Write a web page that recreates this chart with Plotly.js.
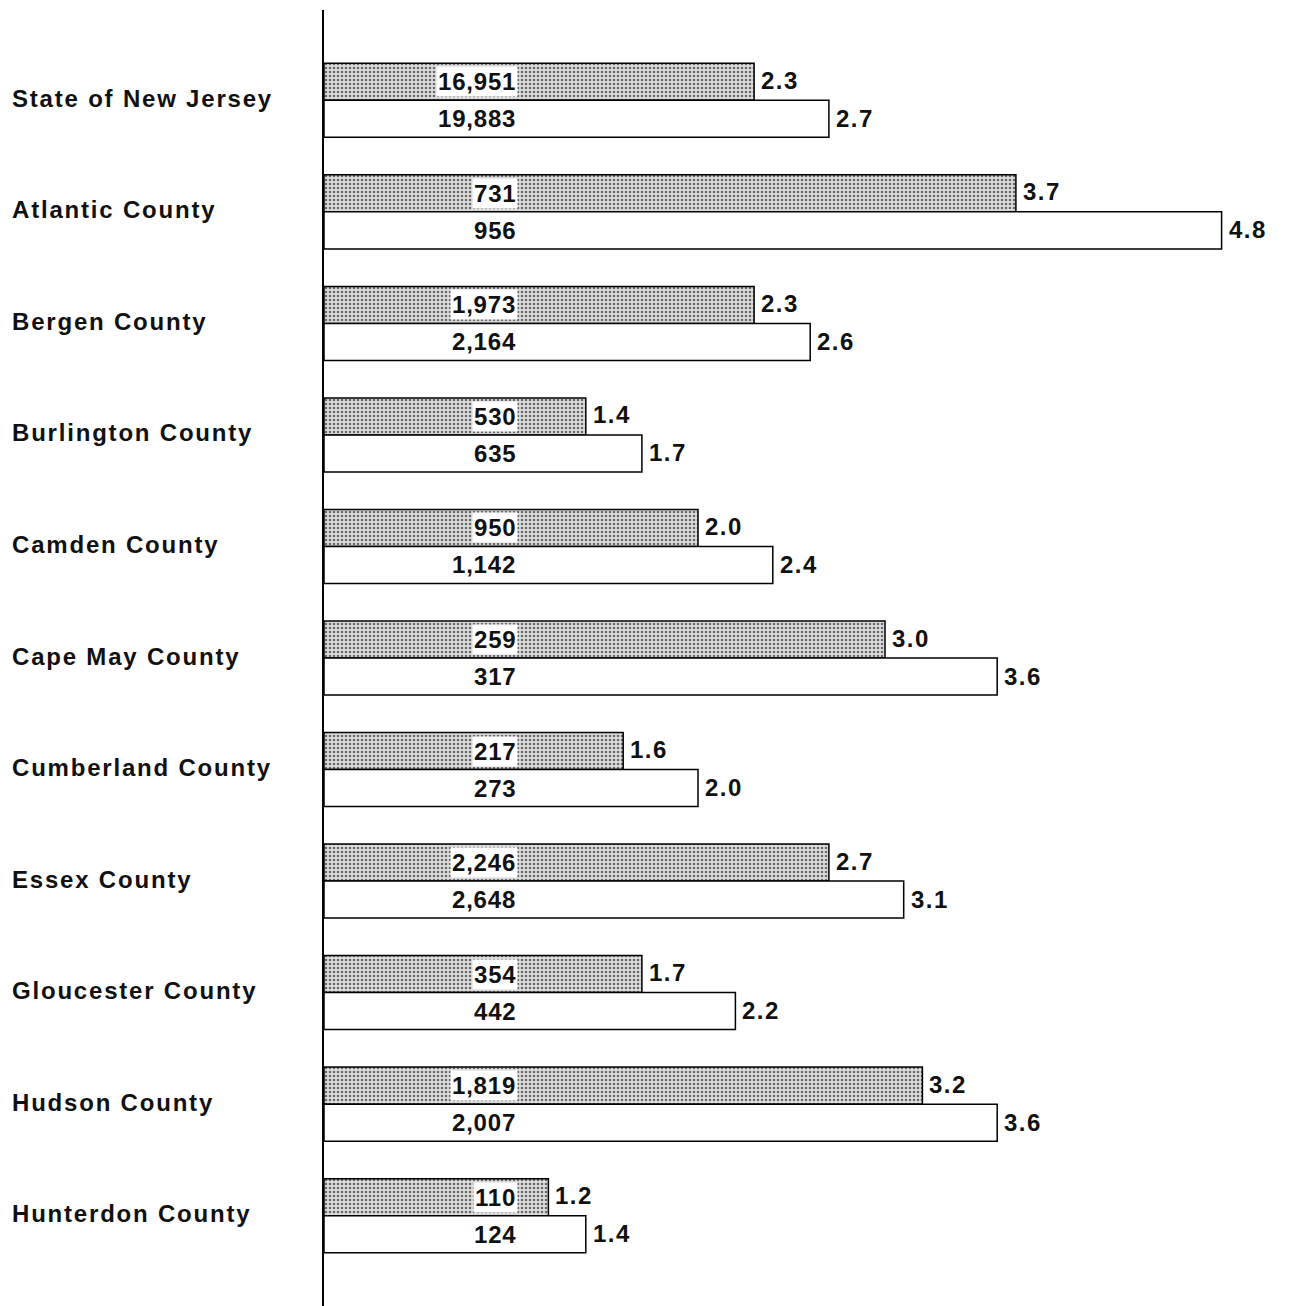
<!DOCTYPE html>
<html>
<head>
<meta charset="utf-8">
<script src="https://cdn.plot.ly/plotly-3.0.1.min.js"></script>
<style>html,body{margin:0;padding:0;background:#fff;}#chart{width:1313px;height:1306px;}</style>
</head>
<body>
<div id="chart"></div>
<script>
const categories = ["State of New Jersey","Atlantic County","Bergen County","Burlington County","Camden County","Cape May County","Cumberland County","Essex County","Gloucester County","Hudson County","Hunterdon County"];
const shadedRates = [2.3,3.7,2.3,1.4,2.0,3.0,1.6,2.7,1.7,3.2,1.2];
const shadedCounts = ["16,951","731","1,973","530","950","259","217","2,246","354","1,819","110"];
const whiteRates = [2.7,4.8,2.6,1.7,2.4,3.6,2.0,3.1,2.2,3.6,1.4];
const whiteCounts = ["19,883","956","2,164","635","1,142","317","273","2,648","442","2,007","124"];

const FONT = "Liberation Sans, Arial, Helvetica, sans-serif";
const PX_PER_UNIT = 187;
const plotW = 1313 - 324;
const countX = (518 - 324) / PX_PER_UNIT;

function sp(t, s){ return '<span style="letter-spacing:' + s + 'px"><b>' + t + '</b></span>'; }

const traces = [
  {type:"bar", orientation:"h", y:categories, x:shadedRates,
   marker:{color:"#d4d4d4", line:{color:"#000", width:1.5},
     pattern:{shape:".", bgcolor:"#dedede", fgcolor:"#6a6a6a", size:4, solidity:0.35}},
   hoverinfo:"none"},
  {type:"bar", orientation:"h", y:categories, x:whiteRates,
   marker:{color:"#ffffff", line:{color:"#000", width:1.5}},
   hoverinfo:"none"}
];

const annotations = [];
const lf = {family:FONT, size:24, color:"#111"};
categories.forEach((c,i)=>{
  annotations.push({xref:"paper", yref:"y", x:-(324-10)/plotW, y:c, yshift:2, xanchor:"left", yanchor:"middle",
    text:sp(c,1.8), showarrow:false, font:{family:FONT, size:24, color:"#111"}});
  annotations.push({xref:"x", yref:"y", x:countX, y:c, yshift:18.5, xanchor:"right", yanchor:"middle",
    text:sp(shadedCounts[i],0.8), showarrow:false, font:lf, bgcolor:"#ffffff", borderpad:1});
  annotations.push({xref:"x", yref:"y", x:countX, y:c, yshift:-18.5, xanchor:"right", yanchor:"middle",
    text:sp(whiteCounts[i],0.8), showarrow:false, font:lf});
  annotations.push({xref:"x", yref:"y", x:shadedRates[i], y:c, yshift:20, xshift:5, xanchor:"left", yanchor:"middle",
    text:sp(shadedRates[i].toFixed(1),1.5), showarrow:false, font:lf});
  annotations.push({xref:"x", yref:"y", x:whiteRates[i], y:c, yshift:-18, xshift:5, xanchor:"left", yanchor:"middle",
    text:sp(whiteRates[i].toFixed(1),1.5), showarrow:false, font:lf});
});

const layout = {
  width:1313, height:1306,
  margin:{l:324, r:0, t:10, b:0},
  paper_bgcolor:"#fff", plot_bgcolor:"#fff",
  barmode:"group", bargap:0.336, bargroupgap:0,
  showlegend:false,
  xaxis:{range:[0, plotW/PX_PER_UNIT], visible:false, fixedrange:true},
  yaxis:{type:"category", range:[10.81,-0.81], showticklabels:false, ticks:"", showgrid:false, zeroline:false,
         showline:true, linecolor:"#000", linewidth:2.5},
  annotations:annotations
};
Plotly.newPlot("chart", traces, layout, {staticPlot:true, displayModeBar:false});
</script>
</body>
</html>
